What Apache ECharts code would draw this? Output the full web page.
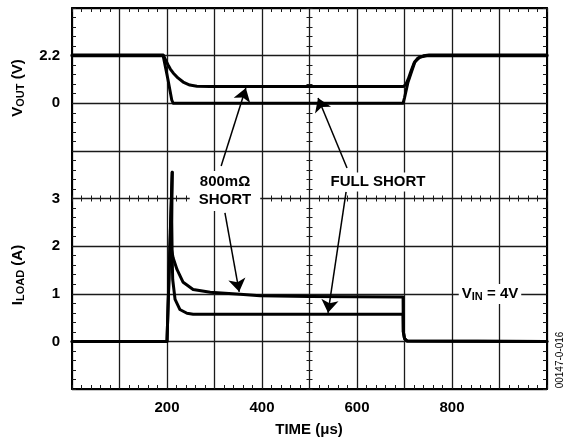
<!DOCTYPE html>
<html>
<head>
<meta charset="utf-8">
<script src="https://cdn.jsdelivr.net/npm/echarts@6/dist/echarts.min.js"></script>
<style>
    html, body { margin: 0; padding: 0; background: #fff; }
    #chart { width: 566px; height: 442px; }
</style>
</head>
<body>
<div id="chart"></div>
<script>
// time axis (us) and tick labels
var timeLabels = [200, 400, 600, 800];
var iLabels = [0, 1, 2, 3];
var vLabels = [0, 2.2];

// VOUT traces [time us, volts]
var vout800 = [[0, 2.23], [192, 2.23], [197, 2.0], [202, 1.78], [207, 1.58], [213, 1.40], [223, 1.17], [234, 0.98],
    [248, 0.84], [263, 0.79], [290, 0.77], [697, 0.77], [702, 0.84], [708, 1.12], [714, 1.5], [720, 1.85],
    [728, 2.08], [740, 2.19], [752, 2.23], [1000, 2.23]];
var voutFull = [[0, 2.19], [192, 2.19], [202, 1.1], [210, 0.15], [213, 0], [697, 0], [700, 0.25], [707, 0.94],
    [716, 1.54], [722, 1.92], [733, 2.14], [747, 2.19], [1000, 2.19]];

// ILOAD traces [time us, amps]
var iload800 = [[0, 0], [200, 0], [211, 3.55], [207, 2.3], [208, 2.0], [213, 1.75], [221, 1.51], [234, 1.24],
    [255, 1.09], [291, 1.03], [354, 0.99], [396, 0.96], [500, 0.94], [697, 0.93], [697.5, 0.2], [700, 0.06],
    [705, 0.01], [1000, 0]];
var iloadFull = [[0, 0], [200, 0], [211, 3.55], [210, 2.5], [211, 1.72], [212, 1.3], [217, 0.88], [227, 0.67],
    [242, 0.59], [255, 0.57], [697, 0.57], [697.5, 0.2], [700, 0.06], [705, 0.01], [1000, 0]];

// arrow callouts [from, to] in data units
var arrowsV = [[[314, -2.9], [366, 0.70]], [[579, -2.99], [518, 0.24]]];
var arrowsI = [[[322, 2.70], [352, 1.04]], [[577, 3.14], [539, 0.60]]];

var chart = echarts.init(document.getElementById('chart'));
var font = 'Liberation Sans, Arial, sans-serif';
var gridColor = '#1a1a1a';

function edgeX(pos, offset, inside, withLabel) {
    return {
        type: 'value', gridIndex: 0, position: pos, offset: offset,
        min: 0, max: 1000, interval: 100,
        axisLine: { show: offset === 0, onZero: false, lineStyle: { color: '#000', width: 2 } },
        axisTick: { show: true, inside: inside, length: offset === 0 ? 4 : 3, lineStyle: { color: gridColor, width: 1 } },
        minorTick: { show: true, splitNumber: 5, length: offset === 0 ? 4 : 3, lineStyle: { color: gridColor, width: 1 } },
        splitLine: { show: withLabel, lineStyle: { color: gridColor, width: 1.3 } },
        axisLabel: {
            show: withLabel, margin: 11, color: '#000', fontSize: 15, fontWeight: 'bold', fontFamily: font,
            formatter: function (v) { return timeLabels.indexOf(v) >= 0 ? String(v) : ''; }
        }
    };
}

function edgeY(pos, offset, inside, withLabel) {
    return {
        type: 'value', gridIndex: 0, position: pos, offset: offset,
        min: -1, max: 7, interval: 1,
        axisLine: { show: offset === 0, onZero: false, lineStyle: { color: '#000', width: 2 } },
        axisTick: { show: true, inside: inside, length: offset === 0 ? 4 : 3, lineStyle: { color: gridColor, width: 1 } },
        minorTick: { show: true, splitNumber: 5, length: offset === 0 ? 4 : 3, lineStyle: { color: gridColor, width: 1 } },
        splitLine: { show: withLabel, lineStyle: { color: gridColor, width: 1.3 } },
        axisLabel: {
            show: withLabel, margin: 12, color: '#000', fontSize: 15, fontWeight: 'bold', fontFamily: font,
            formatter: function (v) { return iLabels.indexOf(v) >= 0 ? String(v) : ''; }
        }
    };
}

function trace(data, yIdx, arrows) {
    var s = {
        type: 'line', xAxisIndex: 0, yAxisIndex: yIdx, data: data,
        showSymbol: false, symbol: 'none', silent: true, z: 10,
        lineStyle: { color: '#000', width: 3, cap: 'round', join: 'round' }
    };
    if (arrows) {
        s.markLine = {
            silent: true, symbol: ['none', 'arrow'], symbolSize: 13,
            label: { show: false },
            lineStyle: { color: '#000', width: 1.5, type: 'solid' },
            data: arrows.map(function (a) { return [{ coord: a[0] }, { coord: a[1] }]; })
        };
    }
    return s;
}

var titleRich = {
    m: { fontSize: 15, fontWeight: 'bold', fontFamily: font, color: '#000', lineHeight: 16, verticalAlign: 'top' },
    s: { fontSize: 11, fontWeight: 'bold', fontFamily: font, color: '#000', lineHeight: 12, padding: [8, 0, 0, 0], verticalAlign: 'bottom' }
};

var option = {
    animation: false,
    backgroundColor: '#fff',
    grid: { left: 72, top: 8, width: 475, height: 381, outerBoundsMode: 'none', containLabel: false },
    xAxis: [
        edgeX('bottom', 0, true, true),
        edgeX('top', 0, true, false),
        edgeX('bottom', -190.5, true, false),
        edgeX('bottom', -190.5, false, false)
    ],
    yAxis: [
        edgeY('left', 0, true, true),
        edgeY('right', 0, true, false),
        edgeY('left', -237.5, true, false),
        edgeY('left', -237.5, false, false),
        {
            type: 'value', gridIndex: 0, position: 'left', min: -13.2, max: 4.4, interval: 2.2,
            axisLine: { show: false, onZero: false }, axisTick: { show: false }, splitLine: { show: false },
            axisLabel: {
                margin: 12, color: '#000', fontSize: 15, fontWeight: 'bold', fontFamily: font,
                formatter: function (v) {
                    var r = Math.round(v * 10) / 10;
                    return vLabels.indexOf(r) >= 0 ? String(r) : '';
                }
            }
        }
    ],
    series: [
        trace(vout800, 4, arrowsV),
        trace(voutFull, 4),
        trace(iload800, 0, arrowsI),
        trace(iloadFull, 0)
    ],
    graphic: [
        {
            type: 'text', x: 225, y: 191, z: 50,
            style: {
                text: '800m\u03A9\nSHORT', align: 'center', verticalAlign: 'middle', lineHeight: 18,
                font: 'bold 15px ' + font, fill: '#000', backgroundColor: '#fff', padding: [2, 9]
            }
        },
        {
            type: 'text', x: 378, y: 182, z: 50,
            style: {
                text: 'FULL SHORT', align: 'center', verticalAlign: 'middle',
                font: 'bold 15px ' + font, fill: '#000', backgroundColor: '#fff', padding: [2, 3]
            }
        },
        {
            type: 'text', x: 490, y: 294, z: 50,
            style: {
                text: '{m|V}{s|IN}{m| = 4V}', rich: titleRich, align: 'center', verticalAlign: 'middle',
                backgroundColor: '#fff', padding: [2, 3]
            }
        },
        {
            type: 'text', x: 18, y: 88, rotation: Math.PI / 2, z: 50,
            style: { text: '{m|V}{s|OUT}{m| (V)}', rich: titleRich, align: 'center', verticalAlign: 'middle' }
        },
        {
            type: 'text', x: 18, y: 275, rotation: Math.PI / 2, z: 50,
            style: { text: '{m|I}{s|LOAD}{m| (A)}', rich: titleRich, align: 'center', verticalAlign: 'middle' }
        },
        {
            type: 'text', x: 309, y: 430, z: 50,
            style: { text: 'TIME (\u03BCs)', align: 'center', verticalAlign: 'middle', font: 'bold 15px ' + font, fill: '#000' }
        },
        {
            type: 'text', x: 560, y: 360, rotation: Math.PI / 2, z: 50,
            style: { text: '00147-0-016', align: 'center', verticalAlign: 'middle', font: '10px ' + font, fill: '#000' }
        }
    ]
};

chart.setOption(option);
</script>
</body>
</html>
